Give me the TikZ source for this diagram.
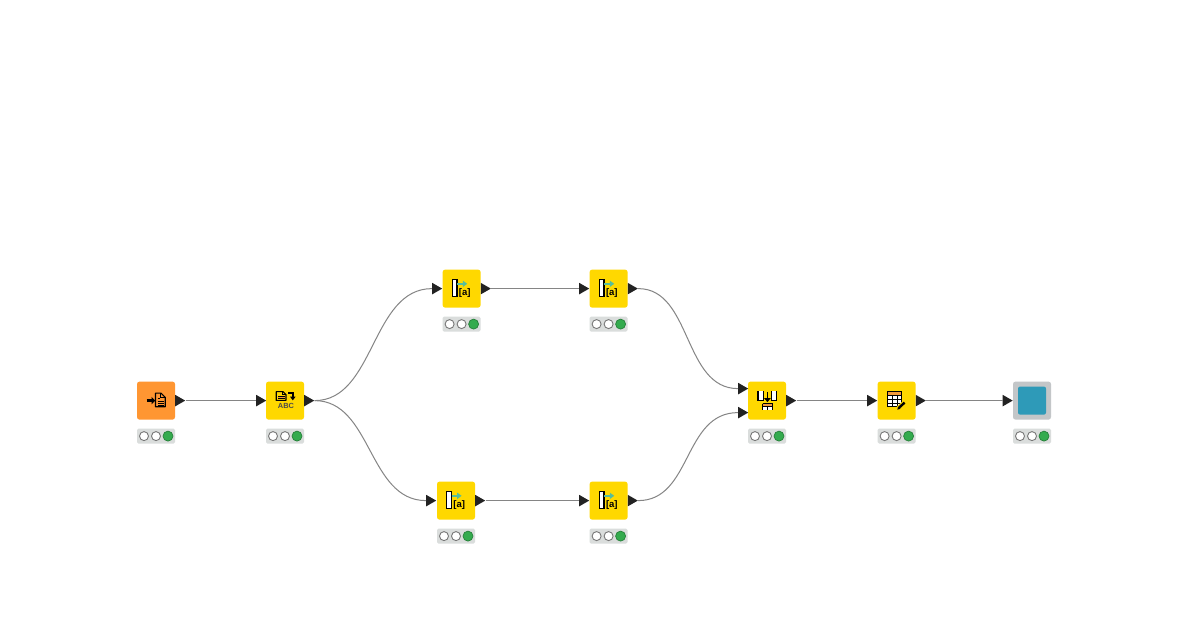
\documentclass[tikz,border=0pt]{standalone}
\usepackage{fontspec}
\setmainfont{Liberation Sans}
\usetikzlibrary{shapes.geometric}
\definecolor{kyellow}{HTML}{FFD800}
\definecolor{korange}{HTML}{FF9632}
\definecolor{kgreen}{HTML}{34AB4E}
\definecolor{kstat}{HTML}{DADDDC}
\definecolor{kport}{HTML}{222222}
\definecolor{kline}{HTML}{858585}
\definecolor{kteal}{HTML}{58BE9A}
\definecolor{kgrey}{HTML}{C3C6C8}
\definecolor{kblue}{HTML}{2E9AB8}
\definecolor{kring}{HTML}{777777}
\definecolor{kband}{HTML}{F29A3C}
\tikzset{
  body/.style={rounded corners=2.5pt,minimum size=38pt,inner sep=0pt,draw=none},
  portnode/.style={isosceles triangle,isosceles triangle apex angle=60,fill=kport,draw=none,inner sep=0pt,minimum height=10pt,minimum width=11.5pt,anchor=lower side,isosceles triangle stretches},
  wire/.style={draw=kline,line width=1pt},
  statbar/.style={fill=kstat,rounded corners=1.5pt,minimum width=38pt,minimum height=15pt,inner sep=0pt},
  lamp/.style={circle,draw=kring,line width=0.9pt,fill=white,minimum size=9pt,inner sep=0pt},
  lampon/.style={circle,draw=kgreen!75!black,line width=0.7pt,fill=kgreen,minimum size=10pt,inner sep=0pt},
  ink/.style={draw=black,line width=0.9pt},
  icontext/.style={inner sep=0pt,text=black},
}
\newcommand{\statuslight}[3]{%
  \node[statbar] (#1s) at (#2,#3+35.5) {};
  \node[lamp] (#1a) at (#2-12,#3+35.5) {};
  \node[lamp] (#1b) at (#2,#3+35.5) {};
  \node[lampon] (#1c) at (#2+12,#3+35.5) {};
}
\newcommand{\fileicon}{%
  \draw[ink,line width=1.2pt,line join=round] (-0.5,-7.5) -- (5,-7.5) -- (9.2,-3.3) -- (9.2,6.2) -- (-0.5,6.2) -- cycle;
  \draw[ink] (4.7,-7.5) -- (4.7,-3) -- (9.2,-3);
  \draw[ink] (1.5,-2) -- (4,-2) (1.5,0.5) -- (7.5,0.5) (1.5,2.5) -- (7.5,2.5) (1.5,4.5) -- (7.5,4.5);
  \draw[black,line width=3pt] (-9.3,0) -- (-3.5,0);
  \fill[black] (-4.5,-3.7) -- (-0.8,0) -- (-4.5,3.7) -- cycle;
}
\newcommand{\stringicon}{%
  \draw[ink,line width=1.1pt,line join=round] (-8.8,-9) -- (-2,-9) -- (1,-6) -- (1,-0.2) -- (-8.8,-0.2) -- cycle;
  \draw[ink,line width=0.7pt] (-2.5,-9) -- (-2.5,-6) -- (1,-6);
  \fill[kband] (-7,-4.6) rectangle (-0.5,-2);
  \draw[black,line width=0.7pt] (-7,-4.6) -- (-0.5,-4.6) (-7,-2) -- (-0.5,-2);
  \draw[black,line width=1.1pt] (3,-7.6) -- (8,-7.6) -- (8,-3.5);
  \fill[black] (5,-4) -- (10.6,-4) -- (7.8,-0.2) -- cycle;
  \node[icontext,font=\bfseries\fontsize{7.4}{8}\selectfont,text=black!70] (abc) at (1,5) {ABC};
}
\newcommand{\columnicon}[1]{%
  \draw[ink,line width=1.2pt,fill=white] (-9.2,-9.5) rectangle (-4.7,8);
  \draw[kteal,line width=2pt] (-4.2,-4.8) -- (2,-4.8);
  \fill[kteal] (1.2,-8) -- (5.6,-4.8) -- (1.2,-1.6) -- cycle;
  \node[icontext,font=\bfseries\fontsize{9.5}{10}\selectfont] (#1t) at (3.2,4.6) {[a]};
}
\newcommand{\mergeicon}{%
  \fill[white] (-9,-9.3) rectangle (-3.5,-0.5);
  \draw[ink,line width=1.2pt] (-9,-9.3) -- (-9,-0.5) -- (-3.5,-0.5) -- (-3.5,-9.3);
  \fill[white] (4.3,-9.3) rectangle (9.8,-0.5);
  \draw[ink,line width=1.2pt] (4.3,-9.3) -- (4.3,-0.5) -- (9.8,-0.5) -- (9.8,-9.3);
  \draw[black,line width=1.8pt] (0.4,-8.5) -- (0.4,-2);
  \fill[black] (-3,-2.5) -- (3.8,-2.5) -- (0.4,1.5) -- cycle;
  \fill[white] (-4.4,3) rectangle (5.6,9);
  \fill[kband] (-4.4,3) rectangle (5.6,5.8);
  \draw[ink] (-4.4,3) -- (5.6,3) (-4.4,3) -- (-4.4,9) (5.6,3) -- (5.6,9);
  \draw[black,line width=0.7pt] (-4.4,5.8) -- (5.6,5.8) (0.6,5.8) -- (0.6,9);
}
\newcommand{\tableicon}{%
  \fill[white] (-9.5,-9) rectangle (5,6);
  \fill[kband] (-9.5,-9) rectangle (5,-5.2);
  \draw[ink,line width=1.1pt] (-9.5,-9) rectangle (5,6);
  \draw[black,line width=0.6pt] (-9.5,-5.2) -- (5,-5.2) (-9.5,-1) -- (5,-1) (-9.5,2.6) -- (5,2.6)
     (-4.7,-5.2) -- (-4.7,6) (0.2,-5.2) -- (0.2,6);
  \draw[kyellow,line width=4pt] (1.5,7.5) -- (8,1.5);
  \draw[black,line width=2.4pt] (2.5,7) -- (8,2);
  \fill[black] (0.8,9) -- (1.4,5.8) -- (3.9,8.2) -- cycle;
}
\begin{document}
\begin{tikzpicture}[x=1pt,y=-1pt]
\useasboundingbox (0,0.4) rectangle (1200,630.4);
\fill[white] (0,0.4) rectangle (1200,630.4);

% bodies
\node[body,fill=korange] (n1) at (156,401) {};
\node[body,fill=kyellow] (n2) at (285,401) {};
\node[body,fill=kyellow] (n3) at (461.6,289) {};
\node[body,fill=kyellow] (n4) at (608.6,289) {};
\node[body,fill=kyellow] (n5) at (456,501) {};
\node[body,fill=kyellow] (n6) at (608.6,501) {};
\node[body,fill=kyellow] (n7) at (767,401) {};
\node[body,fill=kyellow] (n8) at (896.6,401) {};
\node[body,fill=kgrey] (n9) at (1032,401) {};
\node[rounded corners=2pt,fill=kblue,minimum size=28pt,inner sep=0pt] (n9v) at (1032,401) {};

% icons
\begin{scope}[shift={(156,401)}]\fileicon\end{scope}
\begin{scope}[shift={(285,401)}]\stringicon\end{scope}
\begin{scope}[shift={(461.6,289)}]\columnicon{n3}\end{scope}
\begin{scope}[shift={(608.6,289)}]\columnicon{n4}\end{scope}
\begin{scope}[shift={(456,501)}]\columnicon{n5}\end{scope}
\begin{scope}[shift={(608.6,501)}]\columnicon{n6}\end{scope}
\begin{scope}[shift={(767,401)}]\mergeicon\end{scope}
\begin{scope}[shift={(896.6,401)}]\tableicon\end{scope}

% ports
\node[portnode] (p1o) at (175,401) {};
\node[portnode] (p2i) at (256,401) {};
\node[portnode] (p2o) at (304,401) {};
\node[portnode] (p3i) at (432,289) {};
\node[portnode] (p3o) at (480.6,289) {};
\node[portnode] (p4i) at (579,289) {};
\node[portnode] (p4o) at (627.6,289) {};
\node[portnode] (p5i) at (426,501) {};
\node[portnode] (p5o) at (475,501) {};
\node[portnode] (p6i) at (579,501) {};
\node[portnode] (p6o) at (627.6,501) {};
\node[portnode] (p7a) at (738,389) {};
\node[portnode] (p7b) at (738,413) {};
\node[portnode] (p7o) at (786,401) {};
\node[portnode] (p8i) at (867,401) {};
\node[portnode] (p8o) at (915.6,401) {};
\node[portnode] (p9i) at (1002.5,401) {};

% connectors
\draw[wire] (p1o.apex) -- (p2i.lower side);
\draw[wire] (p2o.apex) .. controls (375,401) and (371,289) .. (p3i.lower side);
\draw[wire] (p2o.apex) .. controls (372,401) and (368,501) .. (p5i.lower side);
\draw[wire] (p3o.apex) -- (p4i.lower side);
\draw[wire] (p5o.apex) -- (p6i.lower side);
\draw[wire] (p4o.apex) .. controls (692,289) and (683,389) .. (p7a.lower side);
\draw[wire] (p6o.apex) .. controls (692,501) and (683,413) .. (p7b.lower side);
\draw[wire] (p7o.apex) -- (p8i.lower side);
\draw[wire] (p8o.apex) -- (p9i.lower side);

% status
\statuslight{n1}{156}{401}
\statuslight{n2}{285}{401}
\statuslight{n3}{461.6}{289}
\statuslight{n4}{608.6}{289}
\statuslight{n5}{456}{501}
\statuslight{n6}{608.6}{501}
\statuslight{n7}{767}{401}
\statuslight{n8}{896.6}{401}
\statuslight{n9}{1032}{401}
\end{tikzpicture}
\end{document}
